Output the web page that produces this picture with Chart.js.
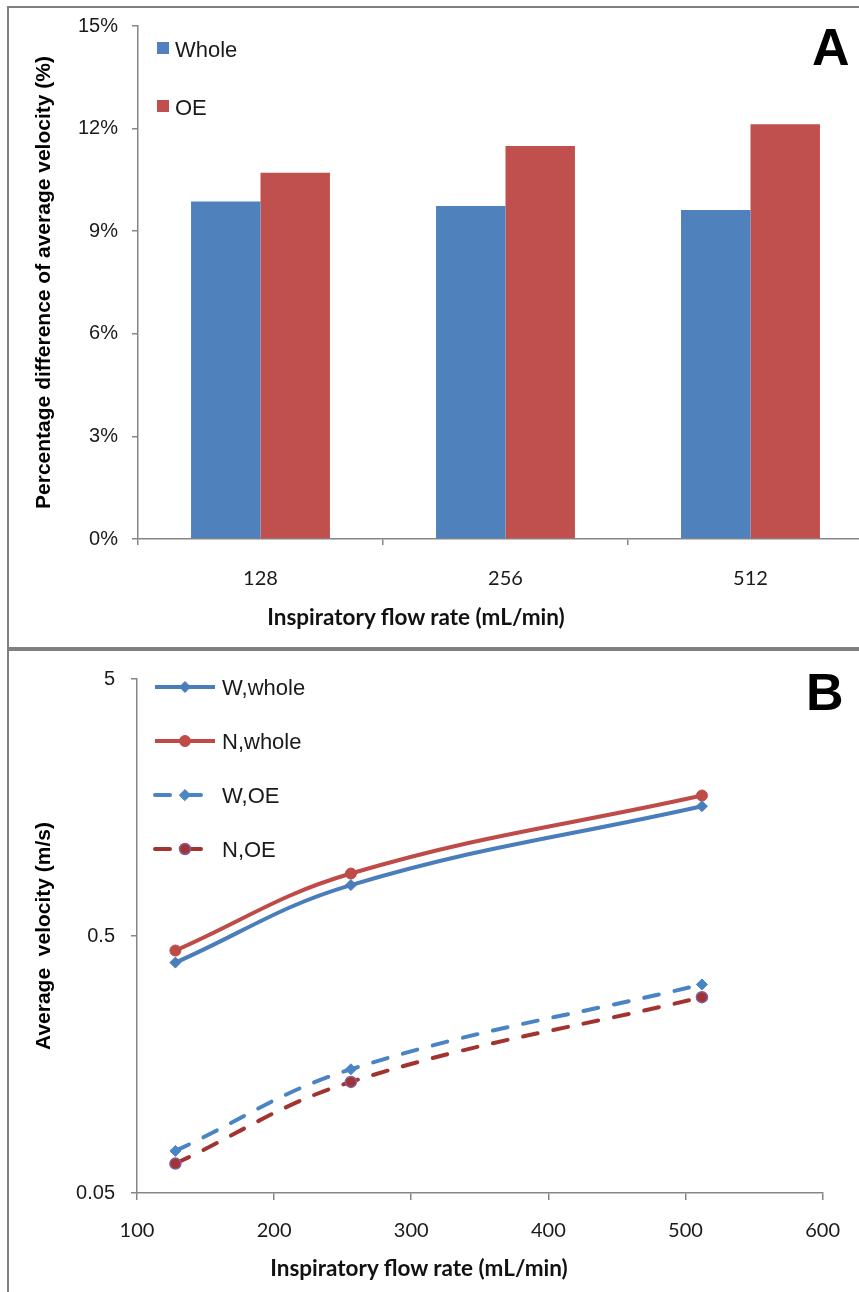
<!DOCTYPE html>
<html>
<head>
<meta charset="utf-8">
<script src="https://cdn.jsdelivr.net/npm/chart.js@4.4.1/dist/chart.umd.min.js"></script>
<style>
    body { margin: 0; background: #fff; overflow: hidden; }
    #page { position: relative; width: 859px; height: 1292px; overflow: hidden; background: #fff; }
    .rule { position: absolute; background: #808080; }
    .letter { position: absolute; font: bold 52px "Liberation Sans", Arial, sans-serif; line-height: 1; color: #000; }
    .x-title { position: absolute; font: bold 22.5px Lato, sans-serif; line-height: 1; color: #111;
               white-space: nowrap; transform: translate(-50%, -50%); }
    .holder { position: absolute; left: 0; }
</style>
</head>
<body>
<div id="page">
    <div class="holder" style="top:0; width:880px; height:648px;"><canvas id="chartA" width="880" height="648"></canvas></div>
    <div class="holder" style="top:651px; width:859px; height:641px;"><canvas id="chartB" width="859" height="641"></canvas></div>

    <div class="rule" style="left:7px; top:6px; width:852px; height:2px;"></div>
    <div class="rule" style="left:7px; top:6px; width:2px; height:1286px;"></div>
    <div class="rule" style="left:7px; top:647px; width:852px; height:4px;"></div>

    <div class="letter" style="left:812px; top:21px;">A</div>
    <div class="letter" style="left:806px; top:666px;">B</div>

    <div class="x-title" style="left:416px; top:617px;">Inspiratory flow rate (mL/min)</div>
    <div class="x-title" style="left:419px; top:1268px;">Inspiratory flow rate (mL/min)</div>
</div>

<script>
// Panel A: percentage difference of average velocity
const flowLabels = ["128", "256", "512"];
const pctWhole = [9.87, 9.74, 9.62];
const pctOE = [10.71, 11.49, 12.13];
const pctTicks = [0, 3, 6, 9, 12, 15];

// Panel B: average velocity (m/s), log scale
const flowRates = [128, 256, 512];
const velWWhole = [0.394, 0.789, 1.60];
const velNWhole = [0.439, 0.875, 1.76];
const velWOE = [0.0729, 0.1515, 0.324];
const velNOE = [0.0651, 0.1353, 0.289];
const flowTicks = [100, 200, 300, 400, 500, 600];
const velTicks = [0.05, 0.5, 5];

const axisGray = "#868686";
const sans = "'Liberation Sans', Arial, sans-serif";

// Legend drawn inside the plot area, one row per dataset
const insideLegend = {
    id: "insideLegend",
    afterDraw(chart, args, opts) {
        const { ctx, chartArea } = chart;
        ctx.save();
        ctx.font = opts.font;
        ctx.textBaseline = "middle";
        chart.data.datasets.forEach((ds, i) => {
            const x = chartArea.left + opts.left;
            const y = chartArea.top + opts.top + i * opts.rowGap;
            if (opts.kind === "box") {
                ctx.fillStyle = ds.backgroundColor;
                ctx.fillRect(x, y - opts.boxSize / 2, opts.boxSize, opts.boxSize);
            } else {
                ctx.strokeStyle = ds.borderColor;
                ctx.lineWidth = ds.borderWidth;
                ctx.lineCap = ds.borderCapStyle || "butt";
                ctx.setLineDash(ds.borderDash || []);
                ctx.beginPath();
                ctx.moveTo(x, y);
                ctx.lineTo(x + opts.lineLength, y);
                ctx.stroke();
                ctx.setLineDash([]);
                ctx.fillStyle = ds.pointBackgroundColor;
                ctx.strokeStyle = ds.pointBorderColor;
                ctx.lineWidth = ds.pointBorderWidth;
                Chart.helpers.drawPoint(ctx, {
                    pointStyle: ds.pointStyle,
                    radius: ds.pointRadius,
                    rotation: 0,
                    borderWidth: ds.pointBorderWidth
                }, x + opts.lineLength / 2, y);
            }
            ctx.fillStyle = opts.color;
            ctx.fillText(ds.label, x + opts.textOffset, y + opts.textDy);
        });
        ctx.restore();
    }
};

function axisLine() {
    return { color: axisGray, width: 1.5 };
}

function tickMarks(len) {
    return { drawOnChartArea: false, drawTicks: true, tickLength: len, color: axisGray, lineWidth: 1.5 };
}

// Chart A
new Chart(document.getElementById("chartA"), {
    type: "bar",
    data: {
        labels: flowLabels,
        datasets: [
            { label: "Whole", data: pctWhole, backgroundColor: "#4f81bd", categoryPercentage: 0.567, barPercentage: 1 },
            { label: "OE", data: pctOE, backgroundColor: "#c0504d", categoryPercentage: 0.567, barPercentage: 1 }
        ]
    },
    options: {
        responsive: false,
        animation: false,
        layout: { padding: { top: 25, right: 7, bottom: 0, left: 0 } },
        plugins: {
            legend: { display: false },
            tooltip: { enabled: false },
            insideLegend: {
                kind: "box", left: 19, top: 22, rowGap: 58, boxSize: 12,
                textOffset: 18, textDy: 3, font: "22px " + sans, color: "#1a1a1a"
            }
        },
        scales: {
            x: {
                grid: tickMarks(6),
                border: axisLine(),
                ticks: { font: { family: "Lato", size: 20 }, color: "#1a1a1a", padding: 22 },
                afterFit: (s) => { s.height = 109; }
            },
            y: {
                min: 0,
                max: 15,
                afterBuildTicks: (s) => { s.ticks = pctTicks.map((v) => ({ value: v })); },
                grid: tickMarks(6),
                border: axisLine(),
                ticks: { font: { family: sans, size: 20 }, color: "#1a1a1a", padding: 14, callback: (v) => v + "%" },
                title: {
                    display: true,
                    text: "Percentage difference of average velocity (%)",
                    font: { family: sans, size: 21, weight: "bold" },
                    color: "#000",
                    padding: { top: 32, bottom: 0 }
                },
                afterFit: (s) => { s.width = 138; }
            }
        }
    },
    plugins: [insideLegend]
});

// Chart B
function lineSet(label, values, color, style, dashed, extra) {
    return Object.assign({
        label: label,
        data: flowRates.map((f, i) => ({ x: f, y: values[i] })),
        borderColor: color,
        borderWidth: 4,
        borderDash: dashed ? [15, 16] : [],
        borderCapStyle: dashed ? "round" : "butt",
        tension: 0.4,
        pointStyle: style,
        pointRadius: style === "rectRot" ? 5.5 : 5.5,
        pointBackgroundColor: color,
        pointBorderColor: color,
        pointBorderWidth: 1
    }, extra || {});
}

new Chart(document.getElementById("chartB"), {
    type: "line",
    data: {
        datasets: [
            lineSet("W,whole", velWWhole, "#4a7ebb", "rectRot", false),
            lineSet("N,whole", velNWhole, "#be4b48", "circle", false),
            lineSet("W,OE", velWOE, "#4a84c4", "rectRot", true),
            lineSet("N,OE", velNOE, "#a3332f", "circle", true, { pointBorderColor: "#7d5fa6", pointBorderWidth: 1.5 })
        ]
    },
    options: {
        responsive: false,
        animation: false,
        layout: { padding: { top: 24, right: 31, bottom: 0, left: 0 } },
        plugins: {
            legend: { display: false },
            tooltip: { enabled: false },
            insideLegend: {
                kind: "line", left: 18, top: 8, rowGap: 54, lineLength: 60,
                textOffset: 67, textDy: 2, font: "22px " + sans, color: "#1a1a1a"
            }
        },
        scales: {
            x: {
                type: "linear",
                min: 100,
                max: 600,
                afterBuildTicks: (s) => { s.ticks = flowTicks.map((v) => ({ value: v })); },
                grid: tickMarks(7),
                border: axisLine(),
                ticks: { font: { family: "Lato", size: 20 }, color: "#1a1a1a", padding: 19 },
                afterFit: (s) => { s.height = 99; }
            },
            y: {
                type: "logarithmic",
                min: 0.05,
                max: 5,
                afterBuildTicks: (s) => { s.ticks = velTicks.map((v) => ({ value: v })); },
                grid: tickMarks(6),
                border: axisLine(),
                ticks: { font: { family: sans, size: 20 }, color: "#1a1a1a", padding: 16, callback: (v) => String(v) },
                title: {
                    display: true,
                    text: "Average  velocity (m/s)",
                    font: { family: sans, size: 21, weight: "bold" },
                    color: "#000",
                    padding: { top: 32, bottom: 0 }
                },
                afterFit: (s) => { s.width = 137; }
            }
        }
    },
    plugins: [insideLegend]
});
</script>
</body>
</html>
